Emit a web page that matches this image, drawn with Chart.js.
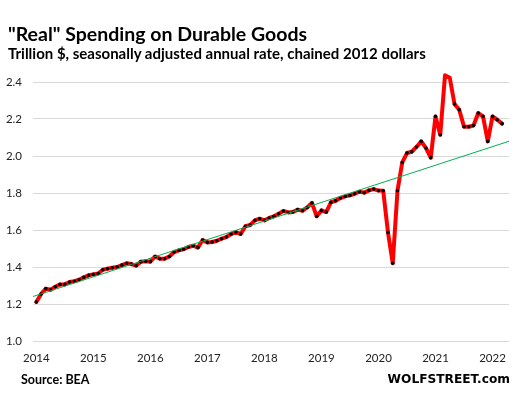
<!DOCTYPE html>
<html>
<head>
<meta charset="utf-8">
<script src="https://cdn.jsdelivr.net/npm/chart.js@4/dist/chart.umd.min.js"></script>
<style>
  html, body { margin: 0; padding: 0; background: #fff; }
  #wrap { position: relative; width: 516px; height: 397px; overflow: hidden; }
  canvas { position: absolute; left: 0; top: 0; }
  .txt { position: absolute; line-height: 1; white-space: nowrap; color: #000; font-weight: bold; }
  #title { left: 8px; top: 24px; font: bold 19.5px Lato, sans-serif; line-height: 1; }
  #subtitle { left: 8px; top: 46px; font: bold 15px Lato, sans-serif; line-height: 1; }
  #source { left: 21px; top: 374px; font: bold 12.5px Lato, sans-serif; line-height: 1; }
  #brand { right: 6px; top: 373px; font: bold 12.2px "DejaVu Sans", sans-serif; line-height: 1; }
</style>
</head>
<body>
<div id="wrap">
  <canvas id="chart" width="516" height="397"></canvas>
  <div class="txt" id="title">"Real" Spending on Durable Goods</div>
  <div class="txt" id="subtitle">Trillion $, seasonally adjusted annual rate, chained 2012 dollars</div>
  <div class="txt" id="source">Source: BEA</div>
  <div class="txt" id="brand">WOLFSTREET.com</div>
</div>
<script>
// monthly, Jan 2014 .. Mar 2022, trillion $
const durableGoods = [
  1.211, 1.254, 1.283, 1.277, 1.293, 1.306, 1.306, 1.319, 1.323, 1.331, 1.344, 1.355,
  1.360, 1.365, 1.385, 1.391, 1.396, 1.400, 1.410, 1.420, 1.416, 1.407, 1.429, 1.431,
  1.429, 1.457, 1.445, 1.445, 1.457, 1.481, 1.490, 1.496, 1.508, 1.515, 1.505, 1.546,
  1.533, 1.535, 1.542, 1.553, 1.562, 1.578, 1.589, 1.578, 1.620, 1.627, 1.652, 1.661,
  1.652, 1.665, 1.674, 1.688, 1.703, 1.695, 1.697, 1.710, 1.704, 1.722, 1.746, 1.674,
  1.706, 1.697, 1.750, 1.758, 1.773, 1.782, 1.787, 1.796, 1.807, 1.802, 1.814, 1.821,
  1.813, 1.812, 1.587, 1.420, 1.812, 1.965, 2.016, 2.023, 2.049, 2.079, 2.043, 1.991,
  2.214, 2.115, 2.436, 2.423, 2.281, 2.250, 2.158, 2.158, 2.165, 2.232, 2.214, 2.079,
  2.214, 2.196, 2.175
];

// trend line end points (month index, value)
const trendMonths = [-1, 99.5];
const trendValues = [1.238, 2.080];

const yearLabels = ['2014', '2015', '2016', '2017', '2018', '2019', '2020', '2021', '2022'];
const yTicks = [1.0, 1.2, 1.4, 1.6, 1.8, 2.0, 2.2, 2.4];

const spendPoints = durableGoods.map((v, i) => ({ x: i, y: v }));
const trendPoints = trendMonths.map((m, i) => ({ x: m, y: trendValues[i] }));

const tickFont = { family: 'Lato, sans-serif', size: 11.5 };

new Chart(document.getElementById('chart'), {
  type: 'line',
  data: {
    datasets: [
      {
        data: trendPoints,
        borderColor: '#00B050',
        borderWidth: 1,
        pointRadius: 0,
        tension: 0,
        order: 0
      },
      {
        data: spendPoints,
        borderColor: '#FF0000',
        borderWidth: 4,
        borderJoinStyle: 'round',
        borderCapStyle: 'round',
        pointRadius: 1.8,
        pointBorderWidth: 0,
        pointBackgroundColor: '#000',
        tension: 0,
        clip: false,
        order: 1
      }
    ]
  },
  options: {
    responsive: false,
    animation: false,
    devicePixelRatio: 1,
    layout: { padding: { top: 82, right: 0, bottom: 0, left: 0 } },
    plugins: { legend: { display: false }, tooltip: { enabled: false } },
    scales: {
      x: {
        type: 'linear',
        min: -0.7,
        max: 99.5,
        afterBuildTicks: (scale) => {
          scale.ticks = yearLabels.map((_, i) => ({ value: i * 12 }));
        },
        afterFit: (scale) => { scale.height = 56; },
        grid: { display: false, drawTicks: false },
        border: { display: false },
        ticks: {
          padding: 10,
          color: '#222',
          font: tickFont,
          maxRotation: 0,
          autoSkip: false,
          callback: (v) => yearLabels[Math.round(v / 12)]
        }
      },
      y: {
        min: 1.0,
        max: 2.4,
        afterBuildTicks: (scale) => {
          scale.ticks = yTicks.map((v) => ({ value: v }));
        },
        afterFit: (scale) => { scale.width = 33; },
        grid: { color: '#D9D9D9', lineWidth: 1, drawTicks: false },
        border: { display: false },
        ticks: {
          padding: 11,
          color: '#222',
          font: tickFont,
          callback: (v) => v.toFixed(1)
        }
      }
    }
  }
});
</script>
</body>
</html>
